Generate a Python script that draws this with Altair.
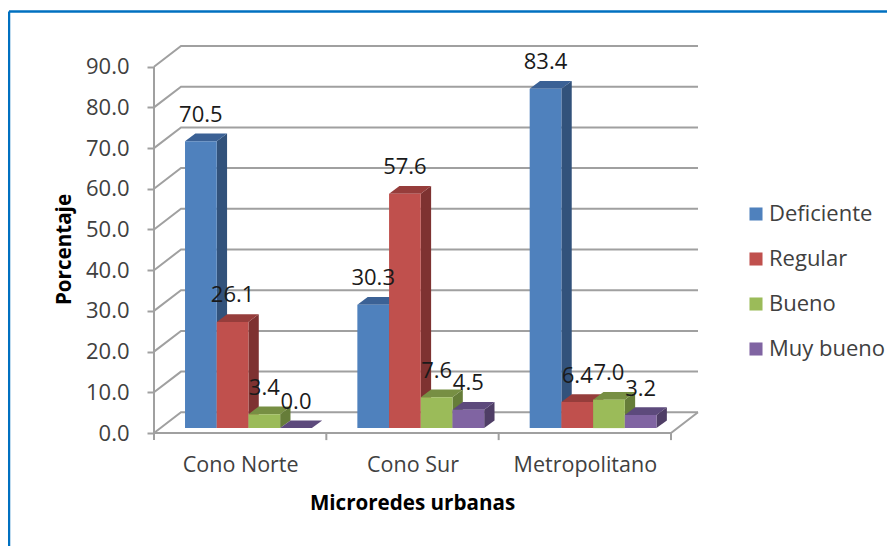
import altair as alt
import pandas as pd

categories = ["Cono Norte", "Cono Sur", "Metropolitano"]
series = ["Deficiente", "Regular", "Bueno", "Muy bueno"]
deficiente = [70.5, 30.3, 83.4]
regular = [26.1, 57.6, 6.4]
bueno = [3.4, 7.6, 7.0]
muy_bueno = [0.0, 4.5, 3.2]
y_ticks = [0, 10, 20, 30, 40, 50, 60, 70, 80, 90]
front = ["#4F81BD", "#C0504D", "#9BBB59", "#8064A2"]
side = ["#32527B", "#7E3231", "#667D39", "#4F3E66"]
top = ["#3B6195", "#963D3B", "#778F43", "#5D4A7C"]

FONT = "Open Sans"
X_MAX, Y_MAX = 3.1567, 95.33
BACK_DX, BACK_DY = 0.1567, 5.09   # depth of the chart floor
BAR_START, BAR_W = 0.18, 0.184    # inside a category band
BAR_DX, BAR_DY = 0.06, 1.9        # depth of a bar
BASE = 1.2                        # bars stand inside the floor
GRID = "#A0A0A0"

values = [deficiente, regular, bueno, muy_bueno]
bars = []
for s, name in enumerate(series):
    for c, cat in enumerate(categories):
        left = c + BAR_START + s * BAR_W
        bars.append(dict(s=s, serie=name, cat=cat, v=values[s][c], left=left, right=left + BAR_W,
                         base=BASE, height=values[s][c] + BASE, mid=left + BAR_W / 2))
bars = pd.DataFrame(bars)

x_scale = alt.Scale(domain=[0, X_MAX], nice=False, zero=False)
y_scale = alt.Scale(domain=[0, Y_MAX], nice=False, zero=False)
x_axis = alt.Axis(
    values=[0.5, 1.5, 2.5], labelExpr="['Cono Norte','Cono Sur','Metropolitano'][floor(datum.value)]",
    ticks=False, domain=False, grid=False, labelFont=FONT, labelFontSize=21.5, labelColor="#404040",
    labelPadding=21, title="Microredes urbanas", titleFont=FONT, titleFontSize=20.6, titleFontWeight="bold",
    titleColor="#000000", titleX=258, titleY=70, titleBaseline="middle", titleAlign="center")
y_axis = alt.Axis(
    values=y_ticks, format=".1f", grid=False, domain=False, tickColor=GRID, tickWidth=2, tickSize=7,
    labelFont=FONT, labelFontSize=22, labelColor="#404040", labelPadding=18, title="Porcentaje",
    titleFont=FONT, titleFontSize=20.6, titleFontWeight="bold", titleColor="#000000", titleX=-90, titleY=204,
    titleBaseline="middle", titleAlign="center", titleAngle=270)
X = lambda f: alt.X(f, type="quantitative", scale=x_scale, axis=x_axis, stack=None)
Y = lambda f: alt.Y(f, type="quantitative", scale=y_scale, axis=y_axis, stack=None)

layers = []

# frame
frame = alt.Chart(pd.DataFrame({"k": [0]}))
layers.append(frame.mark_rule(color="#0070C0", strokeWidth=2.5).encode(
    x=alt.value(-145), x2=alt.value(733), y=alt.value(-33.5)))
layers.append(frame.mark_rule(color="#0070C0", strokeWidth=2.5).encode(
    x=alt.value(-145), y=alt.value(-33.5), y2=alt.value(501)))

# walls
wall = []
for v in y_ticks:
    wall += [dict(k=v, x=0, y=v), dict(k=v, x=BACK_DX, y=v + BACK_DY), dict(k=v, x=X_MAX, y=v + BACK_DY)]
wall += [dict(k=-1, x=0, y=0), dict(k=-1, x=3, y=0), dict(k=-1, x=X_MAX, y=BACK_DY)]
wall += [dict(k=-2, x=0, y=0), dict(k=-2, x=0, y=90)]
for t in range(4):
    wall += [dict(k=-3 - t, x=t, y=0), dict(k=-3 - t, x=t, y=-1.75)]
layers.append(alt.Chart(pd.DataFrame(wall)).mark_line(color=GRID, strokeWidth=2, interpolate="linear").encode(
    x=X("x"), y=Y("y"), detail="k:N"))

# bars, painted from left to right so that each one hides what stands behind it
color = alt.Color("serie:N", scale=alt.Scale(domain=series, range=front), legend=alt.Legend(
    title=None, orient="none", legendX=591, legendY=158, symbolType="square", symbolSize=170, symbolStrokeWidth=0,
    labelFont=FONT, labelFontSize=22, labelColor="#404040", labelOffset=2, rowPadding=23))
for s in range(len(series)):
    b = bars[bars.s == s]
    side_rows, top_rows = [], []
    for r in b.itertuples():
        side_rows += [dict(cat=r.cat, x=r.right, lo=r.base, hi=r.height),
                      dict(cat=r.cat, x=r.right + BAR_DX, lo=r.base + BAR_DY, hi=r.height + BAR_DY)]
        top_rows += [dict(cat=r.cat, y=r.height, a=r.left, b=r.right),
                     dict(cat=r.cat, y=r.height + BAR_DY, a=r.left + BAR_DX, b=r.right + BAR_DX)]
    layers.append(alt.Chart(pd.DataFrame(side_rows)).mark_area(color=side[s], interpolate="linear").encode(
        x=X("x"), y=Y("lo"), y2="hi:Q", detail="cat:N"))
    layers.append(alt.Chart(pd.DataFrame(top_rows)).mark_area(color=top[s], orient="horizontal", interpolate="linear").encode(
        y=Y("y"), x=X("a"), x2="b:Q", detail="cat:N"))
    layers.append(alt.Chart(b).mark_rect().encode(
        x=X("left"), x2="right:Q", y=Y("base"), y2="height:Q", color=color))

layers.append(alt.Chart(bars).mark_text(font=FONT, fontSize=22, color="#1A1A1A", dy=-26.5, baseline="middle").encode(
    x=X("mid"), y=Y("height"), text=alt.Text("v:Q", format=".1f")))

chart = alt.layer(*layers).properties(
    width=544, height=388,
    padding={"left": 146, "top": 37, "right": 189, "bottom": 113},
    autosize=alt.AutoSizeParams(type="none"),
    background="#FFFFFF",
).configure_view(stroke=None)

chart.save("out.html", embed_options={"renderer": "svg", "actions": False})
